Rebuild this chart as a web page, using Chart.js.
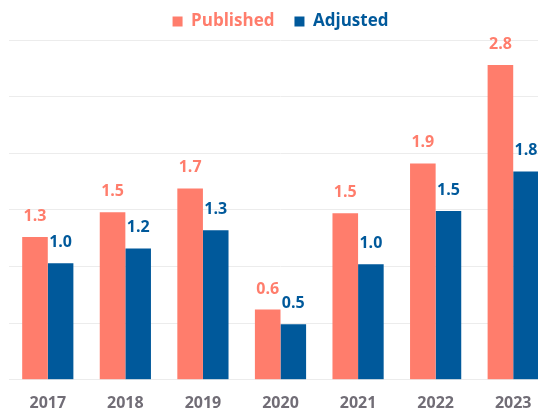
<!DOCTYPE html>
<html lang="en">
<head>
  <meta charset="utf-8">
  <title>Published vs Adjusted</title>
  <script src="https://cdn.jsdelivr.net/npm/chart.js@4/dist/chart.umd.min.js"></script>
  <style>
    html, body { margin: 0; padding: 0; background: #fff; overflow: hidden; }
    .box { position: relative; width: 566px; height: 427px; }
  </style>
</head>
<body>
  <div class="box"><canvas id="barChart"></canvas></div>
  <script>
    const years = ['2017', '2018', '2019', '2020', '2021', '2022', '2023'];
    const published = [1.26, 1.48, 1.69, 0.62, 1.47, 1.91, 2.78];
    const adjusted = [1.03, 1.16, 1.32, 0.49, 1.02, 1.49, 1.84];

    const salmon = '#ff7d6c';
    const navy = '#00599b';
    const fontFam = '"Open Sans", "DejaVu Sans", sans-serif';

    // value labels above each bar
    const valueLabels = {
      id: 'valueLabels',
      afterDatasetsDraw(chart) {
        const ctx = chart.ctx;
        ctx.save();
        ctx.font = 'bold 16px ' + fontFam;
        ctx.textAlign = 'center';
        ctx.textBaseline = 'alphabetic';
        chart.data.datasets.forEach(function (ds, i) {
          chart.getDatasetMeta(i).data.forEach(function (bar, j) {
            ctx.fillStyle = ds.backgroundColor;
            ctx.fillText(ds.data[j].toFixed(1), bar.x, bar.y - 16);
          });
        });
        ctx.restore();
      }
    };

    new Chart(document.getElementById('barChart'), {
      type: 'bar',
      data: {
        labels: years,
        datasets: [
          { label: 'Published', data: published, backgroundColor: salmon },
          { label: 'Adjusted', data: adjusted, backgroundColor: navy }
        ]
      },
      options: {
        responsive: true,
        maintainAspectRatio: false,
        animation: false,
        layout: { padding: { left: 9, right: 14, top: -7, bottom: 0 } },
        datasets: { bar: { categoryPercentage: 0.66, barPercentage: 1.0 } },
        plugins: {
          tooltip: { enabled: false },
          legend: {
            position: 'top',
            labels: {
              boxWidth: 10,
              boxHeight: 10,
              padding: 20,
              font: { family: fontFam, size: 17, weight: 'bold' },
              generateLabels(chart) {
                const items = Chart.defaults.plugins.legend.labels.generateLabels(chart);
                items.forEach(function (it, i) {
                  it.fontColor = chart.data.datasets[i].backgroundColor;
                  it.lineWidth = 0;
                });
                return items;
              }
            }
          }
        },
        scales: {
          x: {
            grid: { display: false, drawTicks: false },
            border: { display: false },
            ticks: {
              padding: 14,
              color: '#716d76',
              font: { family: fontFam, size: 16, weight: 'bold' }
            }
          },
          y: {
            min: 0,
            max: 3,
            ticks: { display: false, stepSize: 0.5 },
            grid: { color: '#ececec', drawTicks: false },
            border: { display: false }
          }
        }
      },
      plugins: [valueLabels]
    });
  </script>
</body>
</html>
